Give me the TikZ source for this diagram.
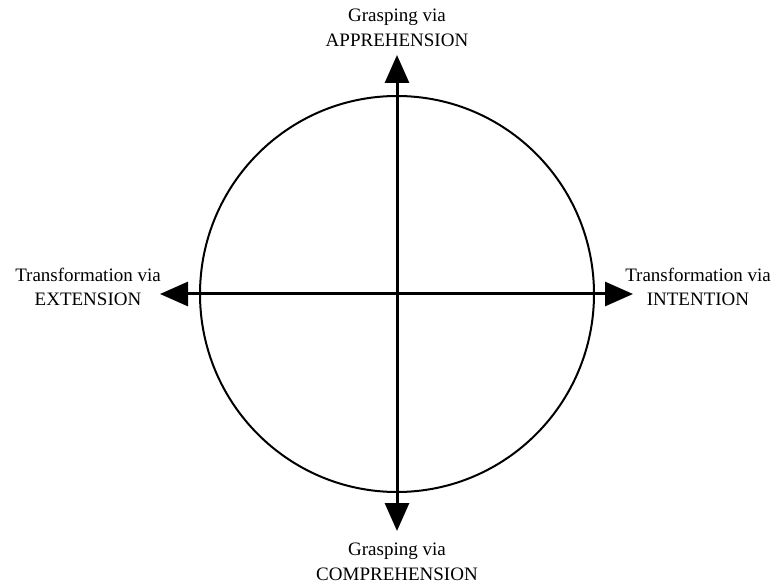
\documentclass[tikz,border=0pt]{standalone}
\usepackage{fontspec}
\setmainfont{Liberation Serif}
\usetikzlibrary{arrows.meta}

\begin{document}
\begin{tikzpicture}[x=1pt,y=-1pt,
    axis/.style={line width=3pt,{Triangle[length=28pt,width=24pt]}-{Triangle[length=28pt,width=24pt]}},
    lab/.style={align=center,inner sep=0pt,font=\fontsize{19}{24.5}\selectfont}]
  \useasboundingbox (0,0) rectangle (779,585);
  \coordinate (o) at (397,294); 
  \coordinate (n) at (397,55); 
  \coordinate (s) at (397,531); 
  \coordinate (w) at (160,294); 
  \coordinate (e) at (633,294); 
  % the circle is a little wider than tall
  \draw [line width=2pt] (o) ellipse (197 and 198); 
  \draw [axis] (s) -- (n); 
  \draw [axis] (w) -- (e); 
  \node [lab] (top) at (397,28) {Grasping via\\APPREHENSION}; 
  \node [lab] (bot) at (397,562) {Grasping via\\COMPREHENSION}; 
  \node [lab] (lft) at (88,287) {Transformation via\\EXTENSION}; 
  \node [lab] (rgt) at (698,287) {Transformation via\\INTENTION}; 
\end{tikzpicture}
\end{document}
